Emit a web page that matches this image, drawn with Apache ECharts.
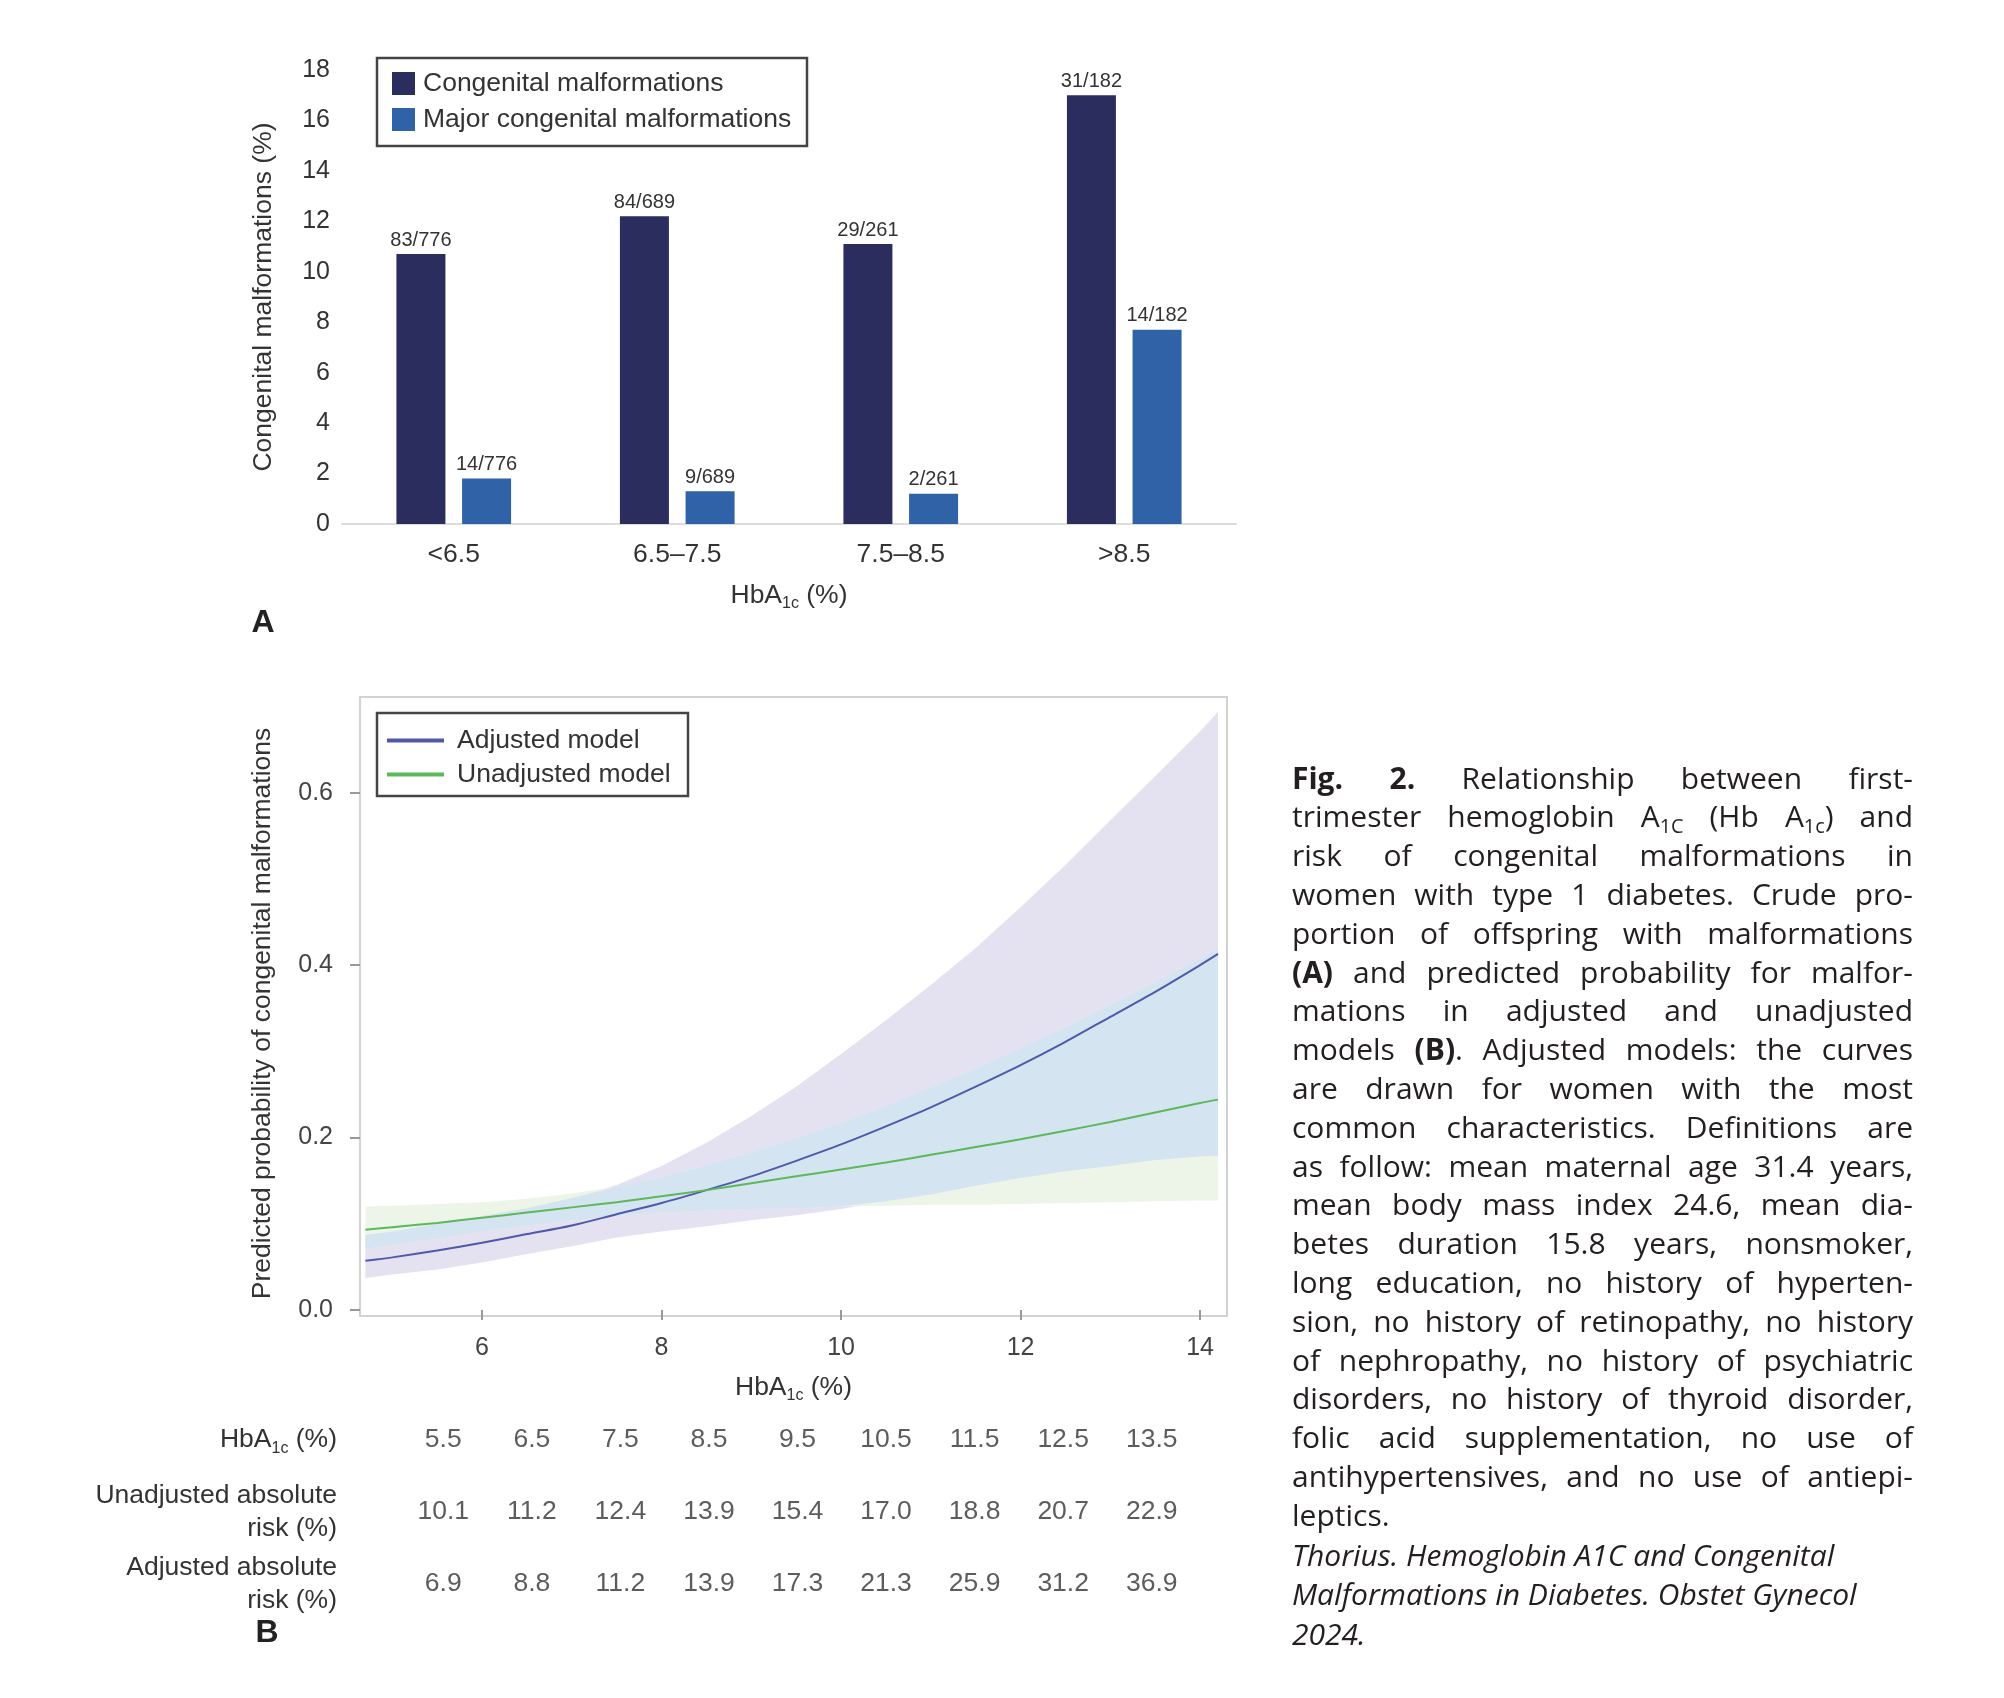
<!DOCTYPE html>
<html><head><meta charset="utf-8">
<script src="https://cdn.jsdelivr.net/npm/echarts@6/dist/echarts.min.js"></script>
<style>html,body{margin:0;padding:0;background:#fff}#c{width:2004px;height:1698px}</style>
</head><body><div id="c"></div>
<script>
// ---------- Panel A data ----------
const barCategories = ['<6.5', '6.5–7.5', '7.5–8.5', '>8.5'];
const congenitalPct = [10.7, 12.2, 11.1, 17.0];
const majorPct = [1.8, 1.3, 1.2, 7.7];
const congenitalLabels = ['83/776', '84/689', '29/261', '31/182'];
const majorLabels = ['14/776', '9/689', '2/261', '14/182'];

// ---------- Panel B data ----------
const hba1cGrid = [4.7, 5.0, 5.5, 6.0, 6.5, 7.0, 7.5, 8.0, 8.5, 9.0, 9.5, 10.0, 10.5, 11.0, 11.5, 12.0, 12.5, 13.0, 13.5, 14.0, 14.2];
const adjustedRisk   = [0.057, 0.061, 0.069, 0.078, 0.088, 0.098, 0.111, 0.124, 0.139, 0.155, 0.173, 0.192, 0.213, 0.235, 0.259, 0.284, 0.311, 0.340, 0.369, 0.400, 0.413];
const unadjustedRisk = [0.093, 0.096, 0.101, 0.107, 0.113, 0.119, 0.125, 0.132, 0.139, 0.147, 0.155, 0.163, 0.171, 0.180, 0.189, 0.198, 0.208, 0.218, 0.229, 0.240, 0.244];
const adjustedLow    = [0.037, 0.041, 0.047, 0.055, 0.065, 0.074, 0.084, 0.091, 0.097, 0.104, 0.110, 0.117, 0.126, 0.134, 0.144, 0.153, 0.161, 0.167, 0.174, 0.178, 0.179];
const adjustedHigh   = [0.087, 0.091, 0.100, 0.109, 0.118, 0.130, 0.145, 0.167, 0.194, 0.225, 0.259, 0.297, 0.336, 0.377, 0.420, 0.467, 0.516, 0.568, 0.619, 0.671, 0.694];
const unadjustedLow  = [0.071, 0.075, 0.083, 0.091, 0.098, 0.104, 0.109, 0.113, 0.115, 0.117, 0.118, 0.120, 0.121, 0.122, 0.122, 0.123, 0.124, 0.125, 0.126, 0.127, 0.127];
const unadjustedHigh = [0.120, 0.121, 0.123, 0.125, 0.129, 0.135, 0.143, 0.154, 0.168, 0.183, 0.199, 0.217, 0.237, 0.258, 0.280, 0.304, 0.328, 0.354, 0.380, 0.408, 0.419];
const overlapLow     = [0.071, 0.075, 0.083, 0.091, 0.098, 0.104, 0.109, 0.113, 0.115, 0.117, 0.118, 0.120, 0.126, 0.134, 0.144, 0.153, 0.161, 0.167, 0.174, 0.178, 0.179];
const overlapHigh    = [0.087, 0.091, 0.100, 0.109, 0.118, 0.130, 0.143, 0.154, 0.168, 0.183, 0.199, 0.217, 0.237, 0.258, 0.280, 0.304, 0.328, 0.354, 0.380, 0.408, 0.419];
const xTicksB = [6, 8, 10, 12, 14];
const yTicksB = [0, 0.2, 0.4, 0.6];

// ---------- Table data ----------
const tableHbA1c      = ['5.5', '6.5', '7.5', '8.5', '9.5', '10.5', '11.5', '12.5', '13.5'];
const tableUnadjusted = ['10.1', '11.2', '12.4', '13.9', '15.4', '17.0', '18.8', '20.7', '22.9'];
const tableAdjusted   = ['6.9', '8.8', '11.2', '13.9', '17.3', '21.3', '25.9', '31.2', '36.9'];
const tableRowLabels  = ['HbA1c (%)', 'Unadjusted absolute\nrisk (%)', 'Adjusted absolute\nrisk (%)'];

// ---------- Caption ----------
const captionLines = [
  '~Fig.~ ~2.~ Relationship between first-',
  'trimester hemoglobin A_{1C} (Hb A_{1c}) and',
  'risk of congenital malformations in',
  'women with type 1 diabetes. Crude pro-',
  'portion of offspring with malformations',
  '~(A)~ and predicted probability for malfor-',
  'mations in adjusted and unadjusted',
  'models ~(B)~. Adjusted models: the curves',
  'are drawn for women with the most',
  'common characteristics. Definitions are',
  'as follow: mean maternal age 31.4 years,',
  'mean body mass index 24.6, mean dia-',
  'betes duration 15.8 years, nonsmoker,',
  'long education, no history of hyperten-',
  'sion, no history of retinopathy, no history',
  'of nephropathy, no history of psychiatric',
  'disorders, no history of thyroid disorder,',
  'folic acid supplementation, no use of',
  'antihypertensives, and no use of antiepi-',
  'leptics.'
];
const citationLines = [
  'Thorius. Hemoglobin A1C and Congenital',
  'Malformations in Diabetes. Obstet Gynecol',
  '2024.'
];

// ---------- helpers ----------
const FONT = 'Liberation Sans, Arial, sans-serif';
const TXT = '#333333';
const FS = 26.5;
const CAP = { x0: 1292, x1: 1913, y0: 780, lh: 38.8, cy0: 1557, clh: 39.5, family: 'Open Sans', color: '#231f20' };

const mctx = document.createElement('canvas').getContext('2d');
function parseWord(w) {
  const segs = []; let bold = false, sub = false, cur = '';
  const push = () => { if (cur) { segs.push({ t: cur, bold, sub }); cur = ''; } };
  for (let i = 0; i < w.length; i++) {
    const ch = w[i];
    if (ch === '~') { push(); bold = !bold; continue; }
    if (ch === '_' && w[i + 1] === '{') { push(); sub = true; i++; continue; }
    if (ch === '}' && sub) { push(); sub = false; continue; }
    cur += ch;
  }
  push();
  return segs;
}
function fontStr(seg, italic, size) {
  return (italic ? 'italic ' : '') + (seg.bold ? 'bold ' : '') + (seg.sub ? size * 0.66 : size) + 'px "' + CAP.family + '"';
}
function lineWidth(str, italic, size) {
  const words = str.split(' ').filter(Boolean).map(parseWord);
  let w = 0;
  words.forEach(segs => segs.forEach(g => { mctx.font = fontStr(g, italic, size); w += mctx.measureText(g.t).width; }));
  mctx.font = fontStr({}, italic, size);
  w += mctx.measureText(' ').width * (words.length - 1);
  return w;
}
function buildCaption() {
  const W = CAP.x1 - CAP.x0;
  let size = 30;
  captionLines.slice(0, -1).forEach(l => {
    const w = lineWidth(l, false, 100);
    size = Math.min(size, 100 * W / w);
  });
  const els = [];
  function lay(str, y, justify, italic) {
    const words = str.split(' ').filter(Boolean).map(parseWord);
    let total = 0;
    words.forEach(segs => segs.forEach(g => { mctx.font = fontStr(g, italic, size); g.w = mctx.measureText(g.t).width; total += g.w; }));
    mctx.font = fontStr({}, italic, size);
    const space = mctx.measureText(' ').width;
    const n = words.length - 1;
    let gap = space, scale = 1;
    if (justify && n > 0) gap = (W - total) / n;
    if (gap < space * 0.6) { gap = space * 0.6; scale = (W - n * gap) / total; }
    let x = CAP.x0;
    words.forEach(segs => {
      segs.forEach(g => {
        const fs = g.sub ? size * 0.66 : size;
        els.push({
          type: 'text', x: x, y: y + (g.sub ? size * 0.3 : 0), scaleX: scale, silent: true,
          style: { text: g.t, fontSize: fs, fontFamily: CAP.family, fontWeight: g.bold ? 'bold' : 'normal',
                   fontStyle: italic ? 'italic' : 'normal', fill: CAP.color,
                   align: 'left', verticalAlign: 'middle', textAlign: 'left', textVerticalAlign: 'middle' }
        });
        x += g.w * scale;
      });
      x += gap;
    });
  }
  captionLines.forEach((l, i) => lay(l, CAP.y0 + i * CAP.lh, i < captionLines.length - 1, false));
  citationLines.forEach((l, i) => lay(l, CAP.cy0 + i * CAP.clh, false, true));
  return els;
}

// confidence band drawn as one polygon through the axis scales
function bandSeries(name, lo, hi, color) {
  return {
    type: 'custom', name: name, xAxisIndex: 1, yAxisIndex: 1, silent: true, z: 1, clip: true,
    data: hba1cGrid.map((x, i) => [x, lo[i], hi[i]]),
    encode: { x: 0, y: [1, 2] },
    renderItem: (params, api) => {
      if (params.dataIndex !== 0) return null;
      const pts = [];
      for (let i = 0; i < hba1cGrid.length; i++) pts.push(api.coord([hba1cGrid[i], hi[i]]));
      for (let i = hba1cGrid.length - 1; i >= 0; i--) pts.push(api.coord([hba1cGrid[i], lo[i]]));
      return { type: 'polygon', shape: { points: pts }, style: { fill: color, stroke: null } };
    }
  };
}

const subRich = {
  n: { fontSize: FS, color: TXT, fontFamily: FONT },
  s: { fontSize: 16, color: TXT, fontFamily: FONT, padding: [17, 0, 0, 0] }
};
const hbaName = '{n|HbA}{s|1c}{n| (%)}';

const chart = echarts.init(document.getElementById('c'));
const option = {
  animation: false,
  backgroundColor: '#ffffff',
  textStyle: { fontFamily: FONT },
  grid: [
    { left: 342, right: 768, top: 70, bottom: 1174 },
    { left: 360, right: 777, top: 697, bottom: 382, show: true, borderColor: '#d2d2d2', borderWidth: 2 },
    { left: 399, right: 808, top: 1404, height: 216 }
  ],
  legend: [
    { data: ['Congenital malformations', 'Major congenital malformations'], orient: 'vertical', left: 392, top: 70,
      icon: 'rect', itemWidth: 23, itemHeight: 23, itemGap: 9, padding: 0, selectedMode: false,
      textStyle: { fontSize: FS, color: TXT, lineHeight: 26, padding: [0, 0, 0, 3] } },
    { data: ['Adjusted model', 'Unadjusted model'], orient: 'vertical', left: 387, top: 727,
      icon: 'rect', itemWidth: 57, itemHeight: 4, itemGap: 7, padding: 0, selectedMode: false,
      textStyle: { fontSize: FS, color: TXT, lineHeight: 26, padding: [0, 0, 0, 8] } }
  ],
  xAxis: [
    { type: 'category', gridIndex: 0, data: barCategories,
      axisLine: { lineStyle: { color: '#dcdcdc', width: 2 } }, axisTick: { show: false },
      axisLabel: { fontSize: FS, color: TXT, margin: 17 },
      name: hbaName, nameLocation: 'middle', nameGap: 55, nameTextStyle: { rich: subRich } },
    { type: 'value', gridIndex: 1, min: 4.64, max: 14.30,
      axisLine: { show: false }, splitLine: { show: false },
      axisTick: { show: true, length: 10, lineStyle: { color: '#999', width: 2 }, customValues: xTicksB },
      axisLabel: { fontSize: 25, color: '#444', margin: 20, customValues: xTicksB },
      name: hbaName, nameLocation: 'middle', nameGap: 55, nameTextStyle: { rich: subRich } },
    { type: 'category', gridIndex: 2, data: tableHbA1c, show: false }
  ],
  yAxis: [
    { type: 'value', gridIndex: 0, min: 0, max: 18, interval: 2,
      axisLine: { show: false }, axisTick: { show: false }, splitLine: { show: false },
      axisLabel: { fontSize: 25, color: TXT, margin: 12 },
      name: 'Congenital malformations (%)', nameLocation: 'middle', nameGap: 65,
      nameTextStyle: { fontSize: FS, color: TXT } },
    { type: 'value', gridIndex: 1, min: -0.007, max: 0.711,
      axisLine: { show: false }, splitLine: { show: false },
      axisTick: { show: true, length: 10, lineStyle: { color: '#999', width: 2 }, customValues: yTicksB },
      axisLabel: { fontSize: 25, color: '#444', margin: 27, customValues: yTicksB, formatter: v => v.toFixed(1) },
      name: 'Predicted probability of congenital malformations', nameLocation: 'middle', nameGap: 84,
      nameTextStyle: { fontSize: FS, color: TXT, padding: [0, 14, 0, 0] } },
    { type: 'category', gridIndex: 2, data: ['r0', 'r1', 'r2'], inverse: true,
      axisLine: { show: false }, axisTick: { show: false }, splitLine: { show: false },
      axisLabel: { margin: 62, fontSize: FS, color: TXT, lineHeight: 33, align: 'right',
        formatter: (v, i) => i === 0 ? '{n|HbA}{s|1c}{n| (%)}' : tableRowLabels[i],
        rich: {
          n: { fontSize: FS, color: TXT, align: 'right', fontFamily: FONT },
          s: { fontSize: 16, color: TXT, align: 'right', fontFamily: FONT, padding: [17, 0, 0, 0] }
        } } }
  ],
  series: [
    { type: 'bar', name: 'Congenital malformations', xAxisIndex: 0, yAxisIndex: 0, data: congenitalPct,
      barWidth: 49, barGap: '34%', itemStyle: { color: '#2c2d5f' },
      label: { show: true, position: 'top', distance: 4, fontSize: 20, color: TXT,
        formatter: p => congenitalLabels[p.dataIndex] } },
    { type: 'bar', name: 'Major congenital malformations', xAxisIndex: 0, yAxisIndex: 0, data: majorPct,
      barWidth: 49, barGap: '34%', itemStyle: { color: '#2f62a6' },
      label: { show: true, position: 'top', distance: 4, fontSize: 20, color: TXT,
        formatter: p => majorLabels[p.dataIndex] } },
    bandSeries('Adjusted CI', adjustedLow, adjustedHigh, '#e4e1f1'),
    bandSeries('Unadjusted CI', unadjustedLow, unadjustedHigh, '#edf5e9'),
    bandSeries('Overlap CI', overlapLow, overlapHigh, '#d4e4f0'),
    { type: 'line', name: 'Adjusted model', xAxisIndex: 1, yAxisIndex: 1, symbol: 'none', smooth: 0.3, z: 3,
      lineStyle: { color: '#5058ac', width: 2 }, itemStyle: { color: '#5058ac' },
      data: hba1cGrid.map((x, i) => [x, adjustedRisk[i]]) },
    { type: 'line', name: 'Unadjusted model', xAxisIndex: 1, yAxisIndex: 1, symbol: 'none', smooth: 0.3, z: 3,
      lineStyle: { color: '#5cb85a', width: 2 }, itemStyle: { color: '#5cb85a' },
      data: hba1cGrid.map((x, i) => [x, unadjustedRisk[i]]) },
    { type: 'scatter', name: 'table', xAxisIndex: 2, yAxisIndex: 2, symbolSize: 1, silent: true,
      itemStyle: { color: 'rgba(0,0,0,0)' },
      label: { show: true, position: 'inside', fontSize: FS, color: TXT, formatter: p => p.value[2] },
      data: [tableHbA1c, tableUnadjusted, tableAdjusted].flatMap((row, r) => row.map((t, c) => [c, r, t])) }
  ],
  graphic: [
    { type: 'rect', shape: { x: 377, y: 58, width: 430, height: 88 }, style: { fill: 'none', stroke: '#444', lineWidth: 2.5 }, silent: true },
    { type: 'rect', shape: { x: 377, y: 713, width: 311, height: 83 }, style: { fill: '#fff', stroke: '#444', lineWidth: 2.5 }, silent: true, z: 4 },
    { type: 'text', x: 263, y: 623, silent: true, style: { text: 'A', fontSize: 32, fontWeight: 'bold', fontFamily: FONT, fill: '#222', align: 'center', verticalAlign: 'middle', textAlign: 'center', textVerticalAlign: 'middle' } },
    { type: 'text', x: 267, y: 1633, silent: true, style: { text: 'B', fontSize: 32, fontWeight: 'bold', fontFamily: FONT, fill: '#222', align: 'center', verticalAlign: 'middle', textAlign: 'center', textVerticalAlign: 'middle' } },
    ...buildCaption()
  ]
};
chart.setOption(option);
</script></body></html>
